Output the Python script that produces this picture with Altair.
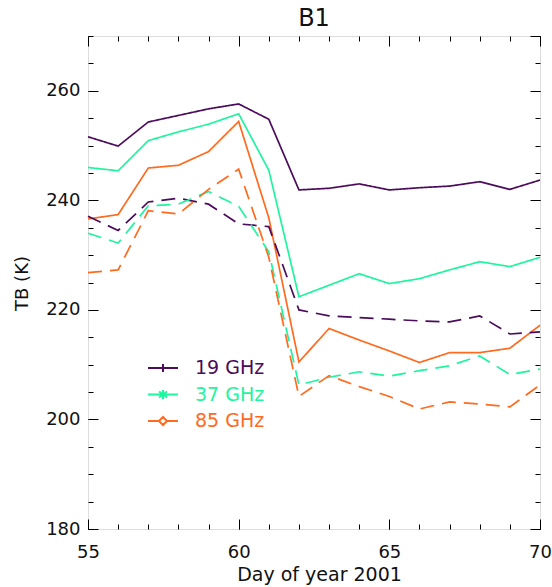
import altair as alt
import pandas as pd

# ---------------- data ----------------
days = list(range(55, 71))
freqs = ["19 GHz", "37 GHz", "85 GHz"]
colors = ["#4b0c5c", "#1ef59e", "#ff6a1e"]

tb19_solid = [251.6, 249.9, 254.3, 255.5, 256.7, 257.6, 254.8, 241.9, 242.2, 243.0, 241.9, 242.3, 242.6, 243.4, 242.0, 243.7]
tb37_solid = [246.0, 245.4, 250.9, 252.5, 253.9, 255.8, 245.5, 222.4, 224.5, 226.6, 224.8, 225.7, 227.3, 228.8, 227.9, 229.6]
tb85_solid = [236.6, 237.4, 245.9, 246.4, 248.9, 254.4, 236.8, 210.5, 216.6, 214.5, 212.5, 210.4, 212.2, 212.2, 213.0, 217.2]
tb19_dash = [237.1, 234.5, 239.7, 240.4, 239.3, 235.7, 235.2, 220.0, 218.9, 218.6, 218.3, 218.0, 217.8, 218.9, 215.6, 216.0]
tb37_dash = [234.0, 232.2, 239.0, 239.3, 241.6, 238.9, 230.6, 206.3, 207.7, 208.7, 207.9, 208.9, 209.8, 211.6, 208.2, 209.2]
tb85_dash = [226.8, 227.3, 238.1, 237.5, 242.0, 245.7, 229.6, 204.2, 208.0, 206.0, 204.2, 201.9, 203.2, 202.8, 202.3, 206.3]

x_major = [55, 60, 65, 70]
x_minor = list(range(55, 71))
y_major = [180, 200, 220, 240, 260]
y_minor = list(range(180, 271, 5))

series = [
    ("19 GHz", "solid", tb19_solid),
    ("37 GHz", "solid", tb37_solid),
    ("85 GHz", "solid", tb85_solid),
    ("19 GHz", "dashed", tb19_dash),
    ("37 GHz", "dashed", tb37_dash),
    ("85 GHz", "dashed", tb85_dash),
]
rows = []
for name, kind, vals in series:
    for d, v in zip(days, vals):
        rows.append({"day": d, "tb": v, "freq": name, "kind": kind})
df = pd.DataFrame(rows)

FONT = "DejaVu Sans"
xscale = alt.Scale(domain=[55, 70], nice=False, zero=False)
yscale = alt.Scale(domain=[180, 270], nice=False, zero=False)

sym_paths = {
    "19 GHz": "M-1.5,0H1.5M0,-0.4V0.4",
    "37 GHz": "M-1.5,0H1.5M0,-0.45V0.45M-0.4,-0.3L0.4,0.3M-0.4,0.3L0.4,-0.3",
    "85 GHz": "M-1.5,0H-0.4M0.4,0H1.5M-0.4,0L0,-0.4L0.4,0L0,0.4Z",
}
sym_expr = " : ".join(
    f"datum.value == '{k}' ? '{v}'" for k, v in sym_paths.items()
) + " : 'circle'"
col_expr = " : ".join(
    f"datum.value == '{k}' ? '{c}'" for k, c in zip(freqs, colors)
) + " : 'black'"

main_x_axis = alt.Axis(
    orient="bottom", values=x_major, offset=-10, tickSize=10, domain=False,
    grid=False, labelFont=FONT, labelFontSize=18, labelColor="#111",
    labelPadding=14, labelFlush=False, labelOverlap=False,
    tickColor="black", tickWidth=1,
    title="Day of year 2001", titleFont=FONT, titleFontSize=19,
    titleFontWeight="normal", titleColor="#111", titleBaseline="alphabetic",
    titleY=61, titleX=231, format="d",
)
main_y_axis = alt.Axis(
    orient="left", values=y_major, offset=-10, tickSize=10, domain=False,
    grid=False, labelFont=FONT, labelFontSize=18, labelColor="#111",
    labelPadding=8, labelFlush=False, labelOverlap=False,
    tickColor="black", tickWidth=1,
    title="TB (K)", titleFont=FONT, titleFontSize=18, titleFontWeight="normal",
    titleColor="#111", titleX=-67, titleY=247, format="d",
)

lines = alt.Chart(df).mark_line(strokeWidth=1.7).encode(
    x=alt.X("day:Q", scale=xscale, axis=main_x_axis),
    y=alt.Y("tb:Q", scale=yscale, axis=main_y_axis),
    color=alt.Color(
        "freq:N",
        scale=alt.Scale(domain=freqs, range=colors),
        legend=alt.Legend(
            orient="none", legendX=64, legendY=321, title=None, padding=0,
            symbolType={"expr": sym_expr}, symbolSize=400,
            symbolStrokeWidth=2, symbolFillColor="white",
            labelFont=FONT, labelFontSize=19, labelColor={"expr": col_expr},
            labelOffset=21, rowPadding=5.5,
        ),
    ),
    strokeDash=alt.StrokeDash(
        "kind:N",
        scale=alt.Scale(domain=["solid", "dashed"], range=[[1, 0], [14, 8]]),
        legend=None,
    ),
)


def tick_layer(xo, yo, xv, yv, size):
    return alt.Chart(df).mark_point(opacity=0).encode(
        x=alt.X("day:Q", scale=xscale, axis=alt.Axis(
            orient=xo, values=xv, offset=-size, tickSize=size, domain=False,
            labels=False, grid=False, title=None, tickColor="black", tickWidth=1)),
        y=alt.Y("tb:Q", scale=yscale, axis=alt.Axis(
            orient=yo, values=yv, offset=-size, tickSize=size, domain=False,
            labels=False, grid=False, title=None, tickColor="black", tickWidth=1)),
    )


chart = alt.layer(
    lines,
    tick_layer("bottom", "left", x_minor, y_minor, 5),
    tick_layer("top", "right", x_major, y_major + [270], 10),
    tick_layer("top", "right", x_minor, y_minor, 5),
).resolve_axis(x="independent", y="independent").properties(
    width=452, height=493,
    title=alt.TitleParams("B1", font=FONT, fontSize=24, fontWeight="normal",
                          color="#111", offset=5, anchor="middle"),
    autosize=alt.AutoSizeParams(type="none"),
    padding={"left": 88, "top": 36, "right": 12, "bottom": 58},
).configure_view(stroke="black", strokeWidth=1.2).configure(background="white")

chart.save("out.html", embed_options={"renderer": "svg", "actions": False})
